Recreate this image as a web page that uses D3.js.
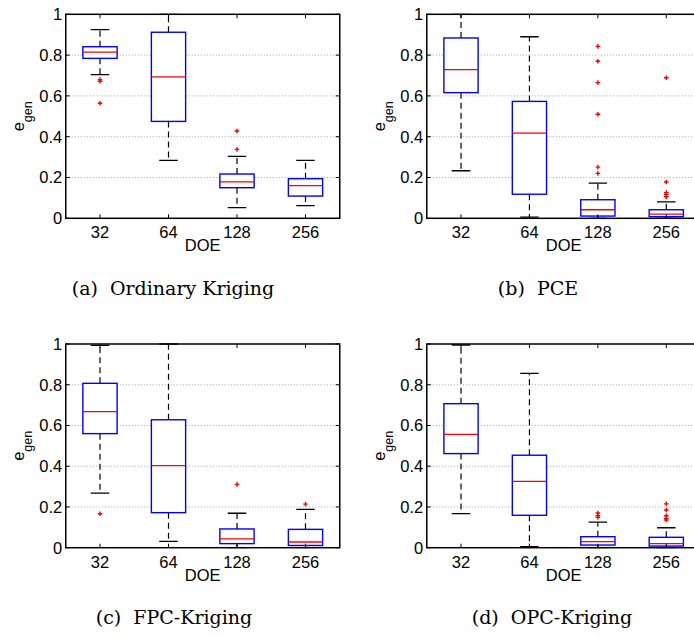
<!DOCTYPE html>
<html><head><meta charset="utf-8">
<script src="https://cdn.jsdelivr.net/npm/d3@7"></script>
<style>body{margin:0;background:#fff}</style>
</head><body>
<svg id="c" width="694" height="637"></svg>
<script>
const categories = ["32","64","128","256"];
const yTicks = [0, 0.2, 0.4, 0.6, 0.8, 1];
const yTickLabels = ["0", "0.2", "0.4", "0.6", "0.8", "1"];
const gridValues = [0.2, 0.4, 0.6, 0.8];
const captions = ["(a)\u00a0\u00a0Ordinary Kriging", "(b)\u00a0\u00a0PCE", "(c)\u00a0\u00a0FPC-Kriging", "(d)\u00a0\u00a0OPC-Kriging"];
// each box: [lower whisker, q1, median, q3, upper whisker]
const ordinaryKriging = [[0.704,0.784,0.815,0.841,0.925],[0.284,0.475,0.693,0.912,1.0],[0.052,0.150,0.179,0.217,0.304],[0.062,0.109,0.160,0.194,0.284]];
const ordinaryKrigingOutliers = [[0.680,0.672,0.564],[],[0.428,0.338],[]];
const pce = [[0.233,0.616,0.729,0.884,1.0],[0.006,0.118,0.418,0.573,0.890],[0.0,0.011,0.042,0.091,0.172],[0.0,0.008,0.020,0.042,0.081]];
const pceOutliers = [[],[],[0.843,0.770,0.665,0.510,0.251,0.220],[0.689,0.178,0.126,0.117,0.106]];
const fpcKriging = [[0.268,0.560,0.668,0.807,0.993],[0.031,0.172,0.403,0.628,1.0],[0.0,0.020,0.043,0.092,0.169],[0.0,0.011,0.028,0.090,0.188]];
const fpcKrigingOutliers = [[0.167],[],[0.311],[0.214]];
const opcKriging = [[0.167,0.462,0.556,0.707,0.995],[0.005,0.159,0.326,0.454,0.856],[0.0,0.013,0.030,0.054,0.126],[0.0,0.008,0.020,0.051,0.098]];
const opcKrigingOutliers = [[],[],[0.170,0.157,0.149],[0.215,0.185,0.157,0.144,0.136]];

const panels = [
  {stats: ordinaryKriging, out: ordinaryKrigingOutliers, left: 65.75, right: 339.75, top: 14.3, bottom: 218.3, cx: 173, cy: 295},
  {stats: pce, out: pceOutliers, left: 426.8, right: 700.5, top: 14.3, bottom: 218.3, cx: 538, cy: 295},
  {stats: fpcKriging, out: fpcKrigingOutliers, left: 65.75, right: 339.75, top: 344.0, bottom: 547.7, cx: 174, cy: 624},
  {stats: opcKriging, out: opcKrigingOutliers, left: 426.8, right: 700.5, top: 344.0, bottom: 547.7, cx: 552, cy: 624}
];

const svg = d3.select("#c");
const sans = "'Liberation Sans', Arial, Helvetica, sans-serif";

panels.forEach((p, pi) => {
  const x = d3.scaleLinear().domain([0.5, 4.5]).range([p.left, p.right]);
  const y = d3.scaleLinear().domain([0, 1]).range([p.bottom, p.top]);
  const g = svg.append("g");
  const clipId = "clip" + pi;
  svg.append("clipPath").attr("id", clipId).append("rect")
    .attr("x", p.left).attr("y", p.top - 1).attr("width", p.right - p.left).attr("height", p.bottom - p.top + 2);

  // grid
  g.selectAll("line.grid").data(gridValues).enter().append("line")
    .attr("x1", p.left).attr("x2", p.right)
    .attr("y1", d => y(d)).attr("y2", d => y(d))
    .attr("stroke", "#8a8a8a").attr("stroke-width", 0.8).attr("stroke-dasharray", "1,2");

  const inner = g.append("g").attr("clip-path", `url(#${clipId})`);
  const bw = 0.5, cw = 0.27;
  p.stats.forEach((s, i) => {
    const pos = i + 1;
    const [lo, q1, med, q3, hi] = s;
    inner.append("line").attr("x1", x(pos)).attr("x2", x(pos)).attr("y1", y(q3)).attr("y2", y(hi))
      .attr("stroke", "#000").attr("stroke-width", 1.2).attr("stroke-dasharray", "6,4");
    inner.append("line").attr("x1", x(pos)).attr("x2", x(pos)).attr("y1", y(q1)).attr("y2", y(lo))
      .attr("stroke", "#000").attr("stroke-width", 1.2).attr("stroke-dasharray", "6,4");
    [lo, hi].forEach(v => {
      inner.append("line").attr("x1", x(pos - cw / 2)).attr("x2", x(pos + cw / 2)).attr("y1", y(v)).attr("y2", y(v))
        .attr("stroke", "#000").attr("stroke-width", 1.3);
    });
    inner.append("rect").attr("x", x(pos - bw / 2)).attr("width", x(pos + bw / 2) - x(pos - bw / 2))
      .attr("y", y(q3)).attr("height", y(q1) - y(q3))
      .attr("fill", "#fff").attr("stroke", "#0000ff").attr("stroke-width", 1.4);
    inner.append("line").attr("x1", x(pos - bw / 2)).attr("x2", x(pos + bw / 2)).attr("y1", y(med)).attr("y2", y(med))
      .attr("stroke", "#ff0000").attr("stroke-width", 1.3);
    p.out[i].forEach(v => {
      const px = x(pos), py = y(v), r = 2.3;
      inner.append("path").attr("d", `M${px - r},${py}H${px + r}M${px},${py - r}V${py + r}`)
        .attr("stroke", "#ff0000").attr("stroke-width", 1.4);
    });
  });

  const tl = 4;
  yTicks.forEach(v => {
    g.append("line").attr("x1", p.left).attr("x2", p.left + tl).attr("y1", y(v)).attr("y2", y(v)).attr("stroke", "#000").attr("stroke-width", 1);
    g.append("line").attr("x1", p.right).attr("x2", p.right - tl).attr("y1", y(v)).attr("y2", y(v)).attr("stroke", "#000").attr("stroke-width", 1);
  });
  categories.forEach((c, i) => {
    g.append("line").attr("x1", x(i + 1)).attr("x2", x(i + 1)).attr("y1", p.bottom).attr("y2", p.bottom - tl).attr("stroke", "#000").attr("stroke-width", 1);
    g.append("line").attr("x1", x(i + 1)).attr("x2", x(i + 1)).attr("y1", p.top).attr("y2", p.top + tl).attr("stroke", "#000").attr("stroke-width", 1);
  });

  g.append("rect").attr("x", p.left).attr("y", p.top).attr("width", p.right - p.left).attr("height", p.bottom - p.top)
    .attr("fill", "none").attr("stroke", "#000").attr("stroke-width", 1.5);

  g.selectAll("text.yt").data(yTicks).enter().append("text")
    .attr("x", p.left - 3.5).attr("y", d => y(d)).attr("dy", "0.36em")
    .attr("text-anchor", "end").attr("font-family", sans).attr("font-size", 16.5).attr("fill", "#000")
    .text((d, i) => yTickLabels[i]);
  g.selectAll("text.xt").data(categories).enter().append("text")
    .attr("x", (d, i) => x(i + 1)).attr("y", p.bottom + 20)
    .attr("text-anchor", "middle").attr("font-family", sans).attr("font-size", 16.5).attr("fill", "#000")
    .text(d => d);
  g.append("text").attr("x", x(2.5)).attr("y", p.bottom + 33)
    .attr("text-anchor", "middle").attr("font-family", sans).attr("font-size", 16.5).attr("fill", "#000").text("DOE");
  const yl = g.append("text").attr("transform", `translate(${p.left - 42},${(p.top + p.bottom) / 2}) rotate(-90)`)
    .attr("text-anchor", "middle").attr("font-family", sans).attr("font-size", 16.5).attr("fill", "#000");
  yl.append("tspan").text("e");
  yl.append("tspan").attr("dy", 8).attr("font-size", 12.5).text("gen");

  svg.append("text").attr("x", p.cx).attr("y", p.cy).attr("text-anchor", "middle")
    .attr("font-family", "'DejaVu Serif', serif").attr("font-size", 19).attr("fill", "#000").text(captions[pi]);
});
</script>
</body></html>
